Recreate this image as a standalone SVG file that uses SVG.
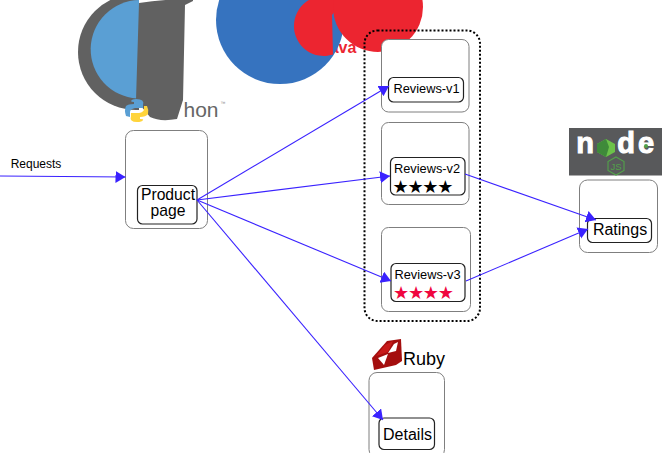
<svg xmlns="http://www.w3.org/2000/svg" width="662" height="453" viewBox="0 0 662 453">
<defs>
<style>
text{font-family:"Liberation Sans",Arial,sans-serif;fill:#000;text-anchor:middle}
.outer{fill:#fff;stroke:#7f7f7f;stroke-width:1}
.inner{fill:#fff;stroke:#222;stroke-width:1.2}
.conn{fill:none;stroke:#3a22ff;stroke-width:1.1;marker-end:url(#arrow)}
.rev{font-size:12.8px}
.stars{font-family:"DejaVu Sans",sans-serif;font-size:18px;letter-spacing:-1.2px;text-anchor:start}
.nodejs{font-size:29px;font-weight:bold;fill:#fff;stroke:#fff;stroke-width:1}
</style>
<marker id="arrow" markerUnits="userSpaceOnUse" markerWidth="12" markerHeight="14" refX="10" refY="6" orient="auto">
<path d="M0 0L10 6L0 12Z" fill="#3a22ff"/>
</marker>
</defs>
<rect width="662" height="453" fill="#fff"/>

<g id="python-logo">
<path d="M136 -6A58 58 0 0 0 136 110L139 110L139 0Z" fill="#616161"/>
<path d="M139 0A49.300 49.300 0 0 0 137 98.500L139 98.500Z" fill="#5a9fd4"/>
<path d="M139 3Q165 -1 193 -1L193 1L185 5L183 100L177 119Q160 122 150 117L136 100Z" fill="#616161"/>
<path d="M136 99Q145 99 143 105L143 108L135 108Q130 109 130 112L130 117L126 116Q124 110 126 106Q128 104 134 104L134 102Q131 102 131 101Q132 99 136 99Z" fill="#5a9fd4"/>
<path d="M137 122Q129 122 131 116L131 113L139 113Q144 112 144 109L144 106L147 106Q149 110 148 114Q146 117 140 117L140 119Q144 119 143 120Q142 122 137 122Z" fill="#ffd43b"/>
<text x="201" y="117" style="font-size:21px;fill:#666">hon</text>
<text x="223" y="105" style="font-size:5px;fill:#888">™</text>
</g>

<g id="java-logo">
<text x="343" y="53" style="font-size:16px;font-weight:bold;fill:#ec2530">ava</text>
<circle cx="280" cy="20" r="64" fill="#3673bf"/>
<path d="M333 54.600A30 30 0 1 1 333 -2.600L345 -2.600L332 15Z" fill="#ec2530"/>
<circle cx="378" cy="7" r="45" fill="#ec2530"/>
</g>

<g id="reviews-group">
<rect x="364.500" y="30.500" width="115.500" height="290.500" rx="13" fill="none" stroke="#000" stroke-width="2" stroke-dasharray="2 2"/>
</g>

<g id="productpage">
<rect class="outer" x="125.500" y="130.500" width="82" height="98" rx="8"/>
<rect class="inner" x="137.500" y="185.500" width="59.500" height="38.500" rx="5"/>
<text x="168" y="200" font-size="15.700">Product</text>
<text x="168" y="216" font-size="15.700">page</text>
</g>

<g id="reviews-v1">
<rect class="outer" x="381.500" y="39.500" width="87.500" height="72.500" rx="7"/>
<rect class="inner" x="388.500" y="77.500" width="75" height="24.500" rx="5"/>
<text class="rev" x="426.500" y="93">Reviews-v1</text>
</g>

<g id="reviews-v2">
<rect class="outer" x="381.500" y="122.500" width="87.500" height="82" rx="7"/>
<rect class="inner" x="390.500" y="157.500" width="74.500" height="37.500" rx="5"/>
<text class="rev" x="427" y="172.500">Reviews-v2</text>
<text class="stars" x="392.500" y="192.500">★★★★</text>
</g>

<g id="reviews-v3">
<rect class="outer" x="381.500" y="227.500" width="89" height="84" rx="7"/>
<rect class="inner" x="391" y="263.500" width="74" height="38" rx="5"/>
<text class="rev" x="427.500" y="279">Reviews-v3</text>
<text class="stars" x="393" y="299" style="fill:#f0063f">★★★★</text>
</g>

<g id="ratings">
<rect class="outer" x="579.500" y="180" width="78" height="72.500" rx="8"/>
<rect class="inner" x="587.500" y="218.500" width="64" height="24" rx="5"/>
<text x="620" y="235" font-size="16">Ratings</text>
</g>

<g id="node-logo">
<rect x="569" y="128" width="93" height="47.500" fill="#58595b"/>
<text class="nodejs" x="585" y="153">n</text>
<path d="M606 139L615 144L615 152L606 157L597 152L597 144Z" fill="#6cc24a"/>
<path d="M606 139L597 144L597 152L606 157L609 147Z" fill="#3f8a3a"/>
<text class="nodejs" x="626" y="153">d</text>
<text class="nodejs" x="646" y="153">e</text>
<circle cx="646" cy="146" r="2" fill="#52a24a"/>
<path d="M616 157L624 161.500L624 170.500L616 175L608 170.500L608 161.500Z" fill="none" stroke="#52a24a" stroke-width="1.100"/>
<text x="616" y="170" style="font-size:9.500px;fill:#52a24a">JS</text>
</g>

<g id="details">
<rect class="outer" x="369" y="372.500" width="75.500" height="85" rx="8"/>
<rect class="inner" x="379" y="418" width="55.500" height="31.500" rx="5"/>
<text x="407.500" y="440" font-size="16">Details</text>
</g>

<g id="ruby-logo">
<path d="M372 358L387 341L401 339L402 361L396 365L374 370Z" fill="#a40e0e"/>
<path d="M376 356L385 345L393 341L388 352Z" fill="#c81a1a"/>
<path d="M388 353L394 344L398 342L396 351Z" fill="#fff"/>
<path d="M378 358L388 354L384 365Z" fill="#fff"/>
<text x="424" y="365" font-size="18">Ruby</text>
</g>

<text x="36" y="168" font-size="12">Requests</text>

<g id="connectors">
<path class="conn" d="M0 176L125.500 177"/>
<path class="conn" d="M197 200L389 86"/>
<path class="conn" d="M197 200L390 176"/>
<path class="conn" d="M197 200L391 281"/>
<path class="conn" d="M197 200L383 420"/>
<path class="conn" d="M465 174L596 220"/>
<path class="conn" d="M466 281L588 229"/>
</g>
</svg>
